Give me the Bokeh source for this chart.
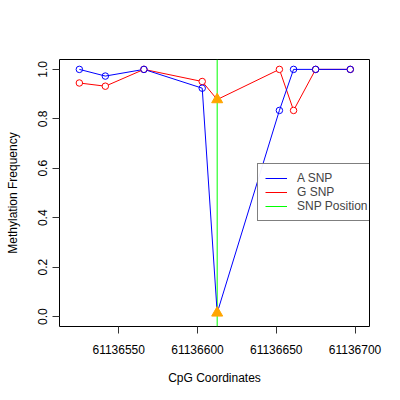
from bokeh.plotting import figure
from bokeh.models import (FixedTicker, PrintfTickFormatter, BasicTickFormatter,
                          Legend, LegendItem, Range1d)
from bokeh.embed import file_html
from bokeh.resources import INLINE

# CpG coordinates
positions = [61136525, 61136541.5, 61136566, 61136603, 61136612.5,
             61136652, 61136661, 61136675, 61136697]
a_snp = [1.0, 0.973, 1.0, 0.924, 0.015, 0.834, 1.0, 1.0, 1.0]
g_snp = [0.945, 0.932, 1.0, 0.951, 0.878, 1.0, 0.834, 1.0, 1.0]
snp_position = 61136612.5
snp_index = 4
x_ticks = [61136550, 61136600, 61136650, 61136700]
y_ticks = [0.0, 0.2, 0.4, 0.6, 0.8, 1.0]
x_lo, x_hi = 61136512.4, 61136709.2
y_lo, y_hi = -0.04, 1.04

FONT = "Liberation Sans"
BLUE = "#0000FF"
RED = "#FF0000"
GREEN = "#00FF00"
ORANGE = "#FFA500"

p = figure(frame_width=310, frame_height=267, output_backend="svg",
           toolbar_location=None, min_border_left=59, min_border_top=59,
           min_border_right=23, min_border_bottom=66,
           x_range=Range1d(x_lo, x_hi), y_range=Range1d(y_lo, y_hi))
p.background_fill_color = "white"
p.border_fill_color = "white"
p.outline_line_color = "black"
p.outline_line_width = 1
p.xgrid.visible = False
p.ygrid.visible = False

pts_x = [x for i, x in enumerate(positions) if i != snp_index]
a_pts = [y for i, y in enumerate(a_snp) if i != snp_index]
g_pts = [y for i, y in enumerate(g_snp) if i != snp_index]

snp_line = p.segment(x0=[snp_position], y0=[y_lo], x1=[snp_position], y1=[y_hi],
                     line_color=GREEN, line_width=1)
g_line = p.line(positions, g_snp, line_color=RED, line_width=1)
a_line = p.line(positions, a_snp, line_color=BLUE, line_width=1)
p.scatter(pts_x, g_pts, marker="circle", size=6.5, line_color=RED,
          fill_color="white", line_width=1)
p.scatter(pts_x, a_pts, marker="circle", size=6.5, line_color=BLUE,
          fill_color=None, line_width=1)
p.scatter([positions[snp_index]] * 2, [a_snp[snp_index], g_snp[snp_index]],
          marker="triangle", size=11, line_color=ORANGE, fill_color=ORANGE)

for ax in (p.xaxis[0], p.yaxis[0]):
    ax.axis_line_color = None
    ax.major_tick_line_color = "#333333"
    ax.major_tick_out = 7
    ax.major_tick_in = 0
    ax.minor_tick_line_color = None
    ax.major_label_text_font = FONT
    ax.major_label_text_font_size = "12px"
    ax.major_label_text_color = "black"
    ax.axis_label_text_font = FONT
    ax.axis_label_text_font_size = "12px"
    ax.axis_label_text_font_style = "normal"
    ax.axis_label_text_color = "black"

p.xaxis.ticker = FixedTicker(ticks=x_ticks)
p.xaxis.formatter = BasicTickFormatter(use_scientific=False)
p.xaxis.axis_label = "CpG Coordinates"
p.xaxis.major_label_standoff = 11
p.xaxis.axis_label_standoff = 14

p.yaxis.ticker = FixedTicker(ticks=y_ticks)
p.yaxis.formatter = PrintfTickFormatter(format="%.1f")
p.yaxis.axis_label = "Methylation Frequency"
p.yaxis.major_label_orientation = "vertical"
p.yaxis.major_label_standoff = 5
p.yaxis.axis_label_standoff = 16

legend = Legend(items=[LegendItem(label="A SNP", renderers=[a_line]),
                       LegendItem(label="G SNP", renderers=[g_line]),
                       LegendItem(label="SNP Position", renderers=[snp_line])],
                location=(198, 105))
legend.border_line_color = "black"
legend.border_line_width = 1
legend.padding = 7
legend.margin = 0
legend.spacing = 0
legend.label_height = 14
legend.glyph_height = 14
legend.glyph_width = 22
legend.label_standoff = 10
legend.label_text_font = FONT
legend.label_text_font_size = "12px"
legend.label_text_line_height = 1.0
legend.background_fill_color = "white"
p.add_layout(legend, "center")

open("out.html", "w").write(file_html(p, INLINE))
